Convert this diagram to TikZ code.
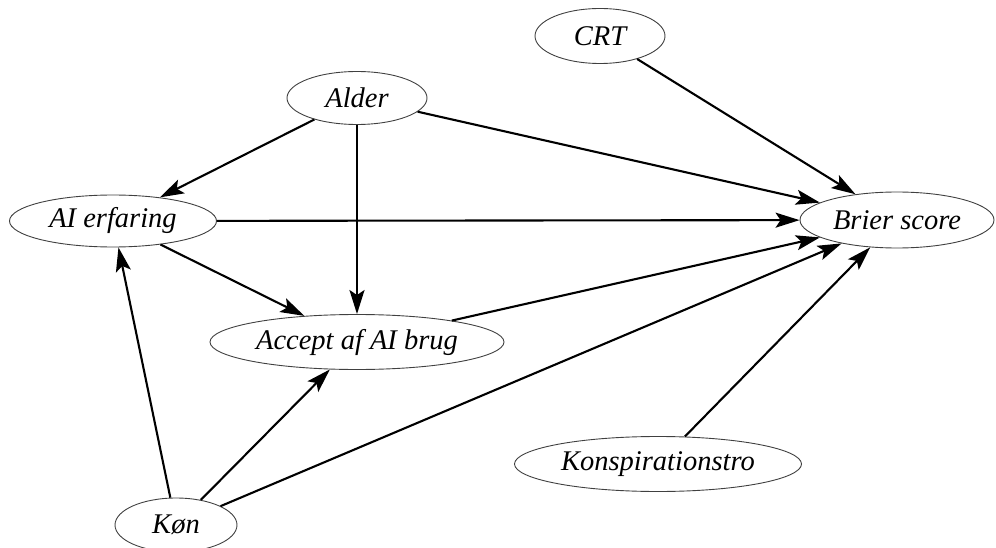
\documentclass[tikz,border=0pt]{standalone}
\usepackage{fontspec}
\setmainfont{Liberation Serif}
\usetikzlibrary{shapes.geometric,arrows.meta}
\begin{document}
\begin{tikzpicture}[x=1pt, y=-1pt]
                    \tikzstyle{var} = [ellipse, draw=black!75, line width=0.9pt, inner sep=0pt,
                                       font=\fontsize{28.5}{34}\selectfont\itshape]
                    \tikzstyle{edge} = [line width=2.1pt, -{Stealth[length=24pt, width=15pt, inset=5pt]}]
                    \useasboundingbox (0,0) rectangle (996,548);
                    % variabler
                    \node[var, minimum width=130pt, minimum height=55pt] (crt) at (600,36) {CRT};
                    \node[var, minimum width=140pt, minimum height=53pt] (alder) at (357,98) {Alder};
                    \node[var, minimum width=207pt, minimum height=52pt] (erfaring) at (113,221) {AI erfaring};
                    \node[var, minimum width=194pt, minimum height=56pt] (brier) at (897,220) {Brier score};
                    \node[var, minimum width=294pt, minimum height=55pt] (accept) at (357,342) {Accept af AI brug};
                    \node[var, minimum width=287pt, minimum height=55pt] (konsp) at (658,464) {Konspirationstro};
                    \node[var, minimum width=122pt, minimum height=54pt] (kon) at (176,525) {Køn};
                    % pile
                    \draw[edge] (crt) -- (brier);
                    \draw[edge] (alder) -- (erfaring);
                    \draw[edge] (alder) -- (accept);
                    \draw[edge] (alder) -- (brier);
                    \draw[edge] (erfaring) -- (brier);
                    \draw[edge] (erfaring) -- (accept);
                    \draw[edge] (accept) -- (brier);
                    \draw[edge] (kon) -- (erfaring);
                    \draw[edge] (kon) -- (accept);
                    \draw[edge] (kon) -- (brier);
                    \draw[edge] (konsp) -- (brier);
\end{tikzpicture}
\end{document}
